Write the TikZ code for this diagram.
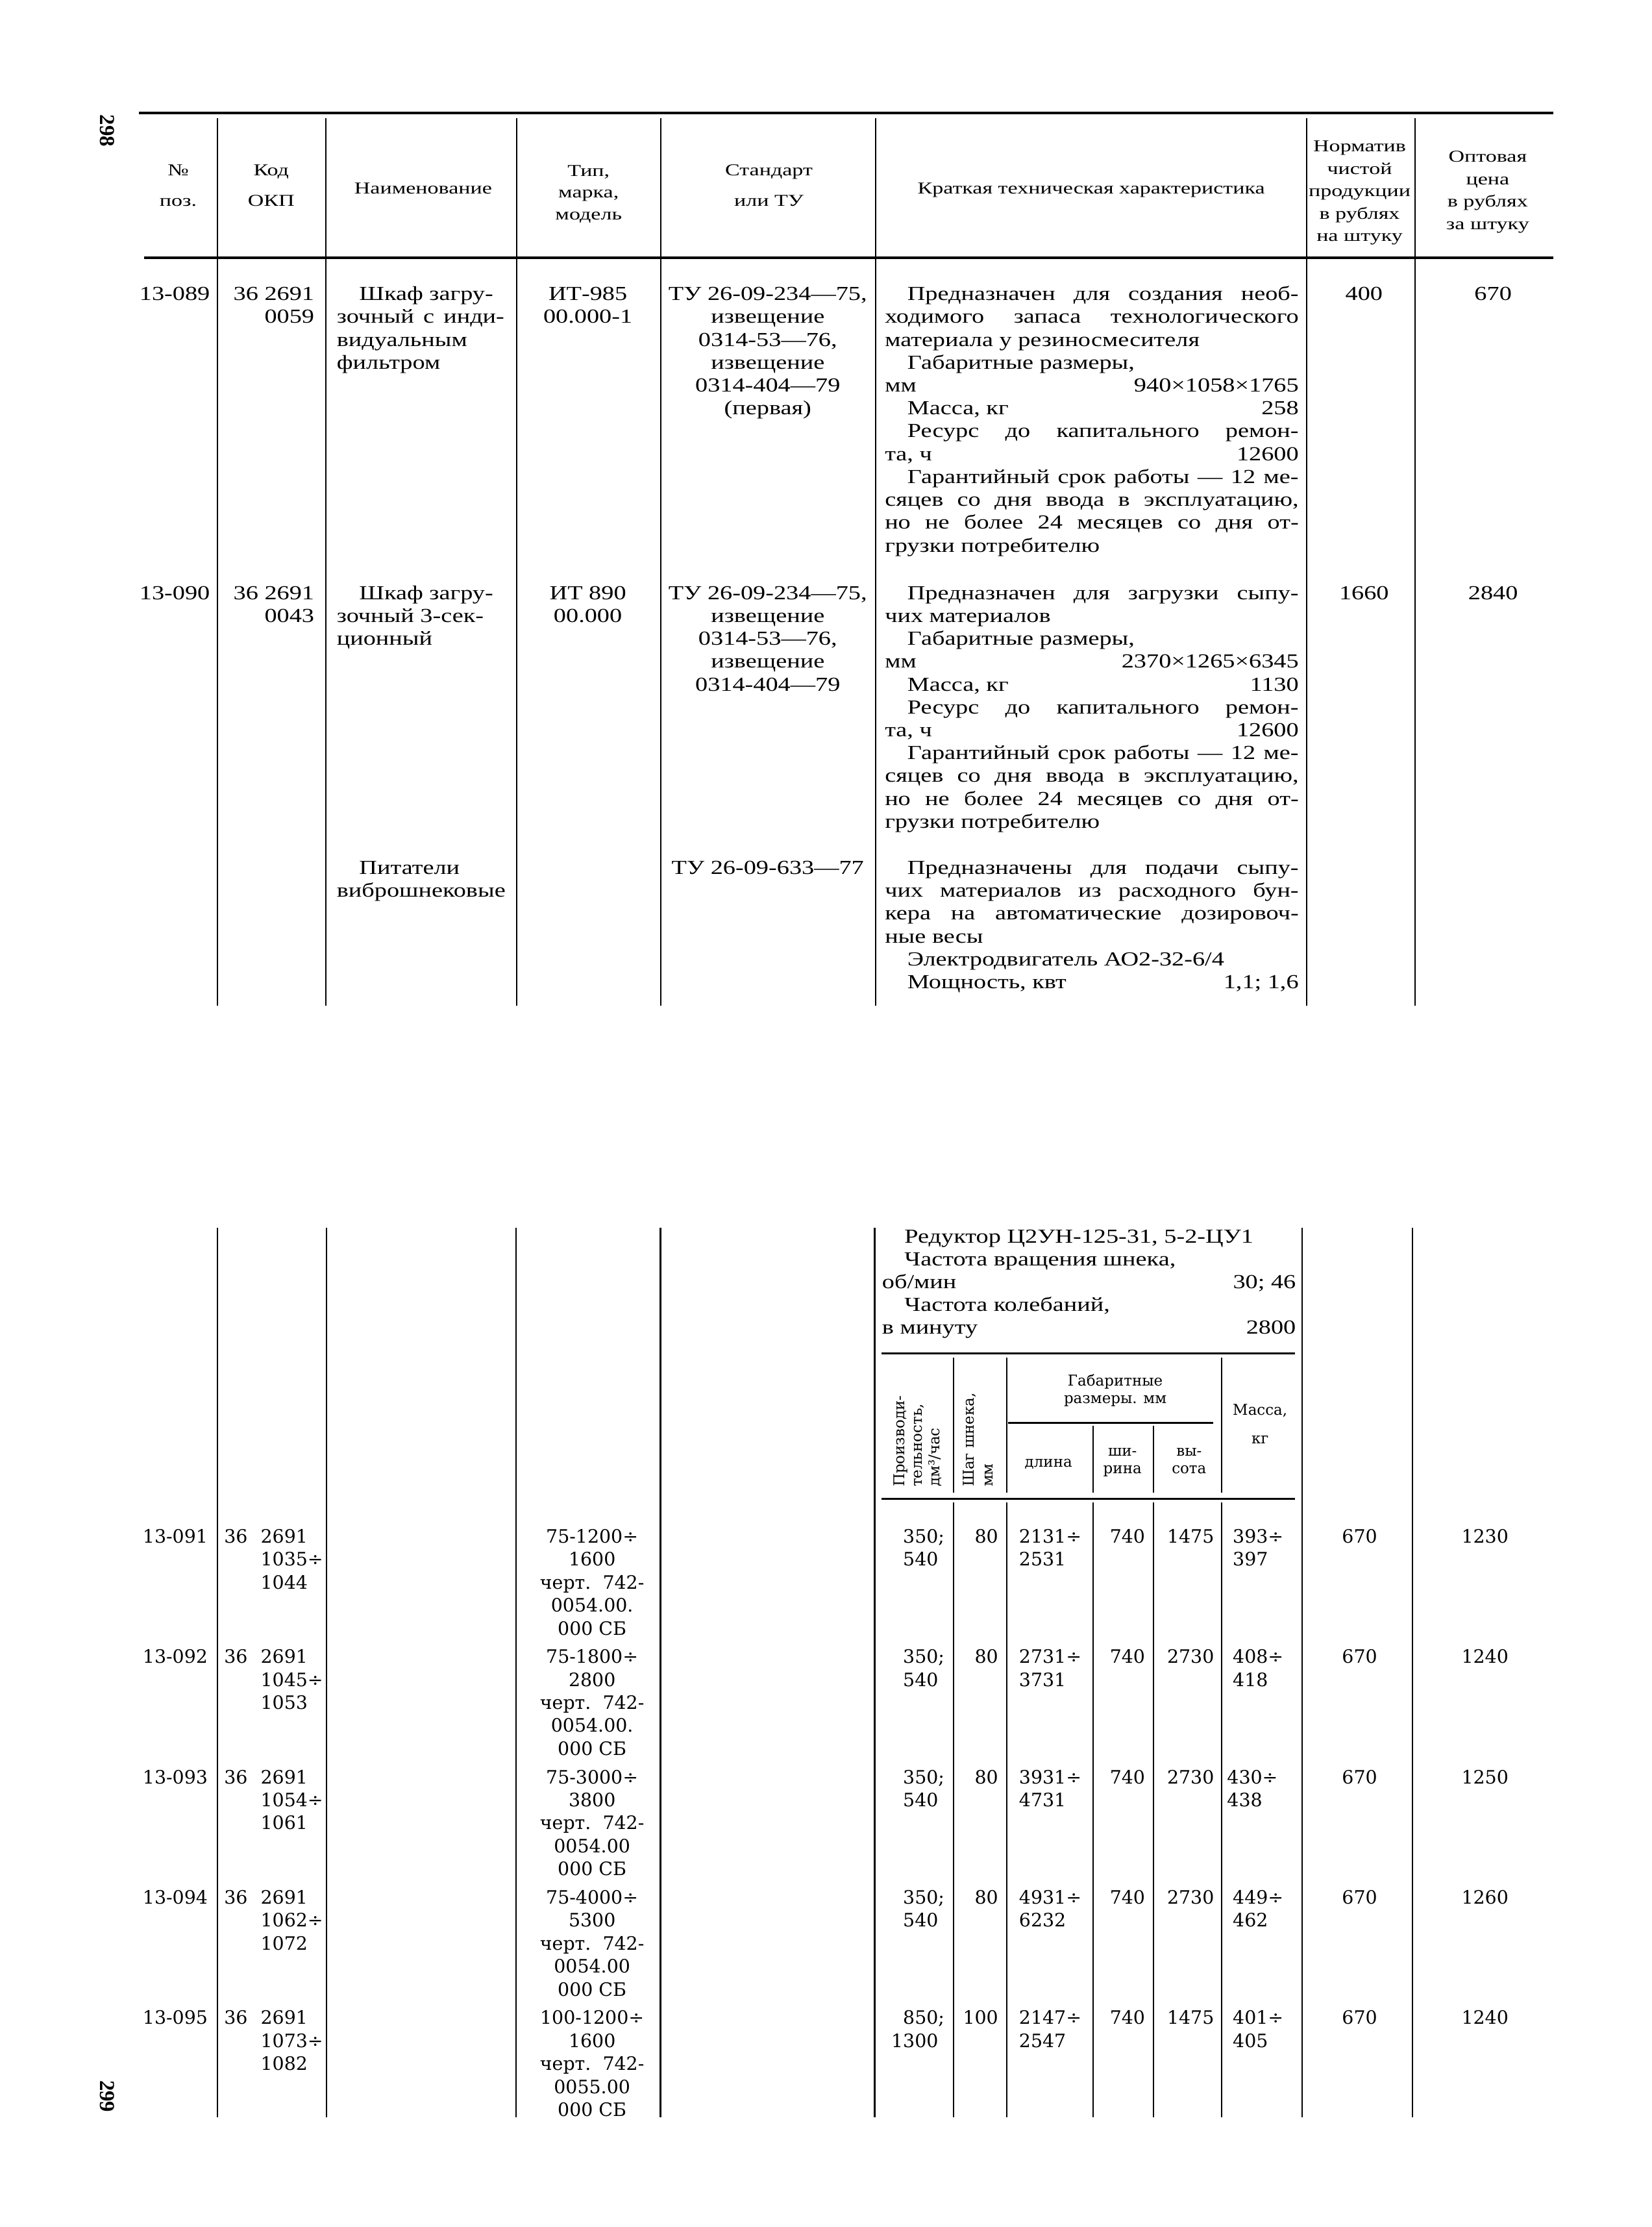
\documentclass[tikz,border=0pt]{standalone}
\usepackage{fontspec}
\setmainfont{Liberation Serif}[FakeStretch=1.25]
\newfontfamily\hdfont{Liberation Serif}[FakeStretch=1.33]
\newfontfamily\tabfont{DejaVu Serif}
\newfontfamily\pgfont{Liberation Serif}

\newlength{\chw}
\setlength{\chw}{291.4pt}
\newcommand{\jl}[1]{\makebox[\chw][s]{#1}}
\newcommand{\rl}[2]{\makebox[\chw]{#1\hfill #2}}
\newcommand{\ind}{\hspace*{15.8pt}}

\begin{document}
\begin{tikzpicture}[x=1pt,y=-1pt,
  hd/.style={font=\hdfont\fontsize{11.7}{15.8}\selectfont,align=center,anchor=base,inner sep=0pt},
  tx/.style={font=\fontsize{14}{16.1}\selectfont,inner sep=0pt},
  tb/.style={font=\tabfont\fontsize{13}{16.2}\selectfont,inner sep=0pt},
  sh/.style={font=\tabfont\fontsize{10.5}{12.3}\selectfont,inner sep=0pt},
  pg/.style={font=\pgfont\bfseries\fontsize{15}{16}\selectfont,inner sep=0pt,rotate=-90},
  rule/.style={line width=1.8pt},
  col/.style={line width=1pt},
  srule/.style={line width=1.4pt}]
\fill[white] (0,0) rectangle (1163,1568);
\useasboundingbox (0,0) rectangle (1163,1568);
% multi-line nodes sit on the baseline of their last line

% page 298
\node[pg] (p298) at (75.5,92) {298};
\draw[rule] (97.9,79.6) -- (1094,79.6);
\draw[rule] (101.5,181.5) -- (1094,181.5);
\foreach \x in {153.3,229.6,363.9,465.3,616.7,920.3,996.6}
  \draw[col] (\x,83) -- (\x,708);

\node[hd] (hnum) at (125.5,145) {№\\[5.5pt]поз.};
\node[hd] (hkod) at (191,145) {Код\\[5.5pt]ОКП};
\node[hd] (hname) at (298,136.4) {Наименование};
\node[hd,font=\hdfont\fontsize{11.7}{15.2}\selectfont] (htype) at (414.5,154.6) {Тип,\\марка,\\модель};
\node[hd] (hstd) at (541.5,145) {Стандарт\\[5.5pt]или ТУ};
\node[hd] (hchar) at (768.5,136.4) {Краткая техническая характеристика};
\node[hd] (hnorm) at (957.5,170) {Норматив\\чистой\\продукции\\в рублях\\на штуку};
\node[hd] (hprice) at (1047.7,161.6) {Оптовая\\цена\\в рублях\\за штуку};

% 13-089
\node[tx,anchor=base east] (n089) at (148,211.5) {13-089};
\node[tx,anchor=base east,align=right] (k089) at (221.5,227.6) {36 2691\\0059};
\node[tx,anchor=base west,align=left] (nm089) at (237,259.8) {\ind Шкаф загру-\\\makebox[118pt][s]{зочный с инди-}\\видуальным\\фильтром};
\node[tx,anchor=base,align=center] (t089) at (414,227.6) {ИТ-985\\00.000-1};
\node[tx,anchor=base,align=center] (s089) at (540.7,292) {ТУ 26-09-234—75,\\извещение\\0314-53—76,\\извещение\\0314-404—79\\(первая)};
\node[tx,anchor=base west,align=left] (ch089) at (623,388.6) {%
\jl{\ind Предназначен для создания необ-}\\
\jl{ходимого запаса технологического}\\
материала у резиносмесителя\\
\ind Габаритные размеры,\\
\rl{мм}{940×1058×1765}\\
\rl{\ind Масса, кг}{258}\\
\jl{\ind Ресурс до капитального ремон-}\\
\rl{та, ч}{12600}\\
\jl{\ind Гарантийный срок работы — 12 ме-}\\
\jl{сяцев со дня ввода в эксплуатацию,}\\
\jl{но не более 24 месяцев со дня от-}\\
грузки потребителю};
\node[tx,anchor=base] (nr089) at (960.6,211.5) {400};
\node[tx,anchor=base] (pr089) at (1051.5,211.5) {670};

% 13-090
\node[tx,anchor=base east] (n090) at (148,422) {13-090};
\node[tx,anchor=base east,align=right] (k090) at (221.5,438.1) {36 2691\\0043};
\node[tx,anchor=base west,align=left] (nm090) at (237,454.2) {\ind Шкаф загру-\\зочный 3-сек-\\ционный};
\node[tx,anchor=base,align=center] (t090) at (414,438.1) {ИТ 890\\00.000};
\node[tx,anchor=base,align=center] (s090) at (540.7,486.4) {ТУ 26-09-234—75,\\извещение\\0314-53—76,\\извещение\\0314-404—79};
\node[tx,anchor=base west,align=left] (ch090) at (623,583) {%
\jl{\ind Предназначен для загрузки сыпу-}\\
чих материалов\\
\ind Габаритные размеры,\\
\rl{мм}{2370×1265×6345}\\
\rl{\ind Масса, кг}{1130}\\
\jl{\ind Ресурс до капитального ремон-}\\
\rl{та, ч}{12600}\\
\jl{\ind Гарантийный срок работы — 12 ме-}\\
\jl{сяцев со дня ввода в эксплуатацию,}\\
\jl{но не более 24 месяцев со дня от-}\\
грузки потребителю};
\node[tx,anchor=base] (nr090) at (960.6,422) {1660};
\node[tx,anchor=base] (pr090) at (1051.5,422) {2840};

% feeders
\node[tx,anchor=base west,align=left] (nmfeed) at (237,631.6) {\ind Питатели\\виброшнековые};
\node[tx,anchor=base] (sfeed) at (540.7,615.5) {ТУ 26-09-633—77};
\node[tx,anchor=base west,align=left] (chfeed) at (623,696) {%
\jl{\ind Предназначены для подачи сыпу-}\\
\jl{чих материалов из расходного бун-}\\
\jl{кера на автоматические дозировоч-}\\
ные весы\\
\ind Электродвигатель АО2-32-6/4\\
\rl{\ind Мощность, квт}{1,1; 1,6}};

% page 299
\node[pg] (p299) at (75.5,1476) {299};
\foreach \x in {153.3,230,363.6,465.1,616,917.2,994.6}
  \draw[col] (\x,864.3) -- (\x,1490.8);

\node[tx,anchor=base west,align=left] (chred) at (621,939.4) {%
\ind Редуктор Ц2УН-125-31, 5-2-ЦУ1\\
\ind Частота вращения шнека,\\
\rl{об/мин}{30; 46}\\
\ind Частота колебаний,\\
\rl{в минуту}{2800}};

% inner table
\draw[srule] (621,953) -- (912,953);
\draw[srule] (709.8,1002) -- (854.3,1002);
\draw[srule] (621,1055.4) -- (912,1055.4);
\foreach \x in {671.5,709,860.5}
  \draw[col] (\x,956) -- (\x,1051);
\foreach \x in {770,812.5}
  \draw[col] (\x,1004) -- (\x,1051);
\foreach \x in {671.5,709,770,812.5,860.5}
  \draw[col] (\x,1058) -- (\x,1490.8);

\node[sh,rotate=90,anchor=base west,align=left] (hperf) at (661.6,1047) {Производи-\\тельность,\\дм³/час};
\node[sh,rotate=90,anchor=base west,align=left] (hshag) at (699.4,1047) {Шаг шнека,\\[1.1pt]мм};
\node[sh,anchor=base,align=center] (hdim) at (785.4,987.9) {Габаритные\\размеры. мм};
\node[sh,anchor=base] (hlen) at (738.4,1032.8) {длина};
\node[sh,anchor=base,align=center] (hwid) at (790.5,1037.5) {ши-\\рина};
\node[sh,anchor=base,align=center] (hhgt) at (837.4,1037.5) {вы-\\сота};
\node[sh,anchor=base,align=center] (hmass) at (887.4,1016.5) {Масса,\\[8pt]кг};

\foreach \rnum/\kone/\ktwo/\tone/\ttwo/\tthr/\pone/\ptwo/\shag/\lone/\ltwo/\hgt/\mone/\mtwo/\mx/\price [count=\i] in {
  13-091/1035/1044/75-1200/1600/0054.00./350/540/80/2131/2531/1475/393/397/868/1230,
  13-092/1045/1053/75-1800/2800/0054.00./350/540/80/2731/3731/2730/408/418/868/1240,
  13-093/1054/1061/75-3000/3800/0054.00/350/540/80/3931/4731/2730/430/438/864/1250,
  13-094/1062/1072/75-4000/5300/0054.00/350/540/80/4931/6232/2730/449/462/868/1260,
  13-095/1073/1082/100-1200/1600/0055.00/850/1300/100/2147/2547/1475/401/405/868/1240}{
  \pgfmathsetmacro{\yy}{1086.3+84.73*(\i-1)}
  \pgfmathsetmacro{\ytwo}{\yy+16.2}
  \pgfmathsetmacro{\ythr}{\yy+32.4}
  \pgfmathsetmacro{\yfiv}{\yy+64.8}
  \node[tb,anchor=base east] (pos\i) at (146.5,\yy) {\rnum};
  \node[tb,anchor=base west] (ka\i) at (157.7,\yy) {36};
  \node[tb,anchor=base west,align=left] (kb\i) at (183.4,\ythr) {2691\\{\kone}÷\\\ktwo};
  \node[tb,anchor=base,align=center] (typ\i) at (417,\yfiv) {{\tone}÷\\\ttwo\\черт.~~742-\\\tthr\\000 СБ};
  \node[tb,anchor=base east,align=right] (prf\i) at (661,\ytwo) {\pone\rlap{;}\\\ptwo};
  \node[tb,anchor=base east] (shg\i) at (703.2,\yy) {\shag};
  \node[tb,anchor=base west,align=left] (len\i) at (717.5,\ytwo) {{\lone}÷\\\ltwo};
  \node[tb,anchor=base] (wid\i) at (794,\yy) {740};
  \node[tb,anchor=base] (hgt\i) at (838.5,\yy) {\hgt};
  \node[tb,anchor=base west,align=left] (mas\i) at (\mx,\ytwo) {{\mone}÷\\\mtwo};
  \node[tb,anchor=base] (nrm\i) at (957.5,\yy) {670};
  \node[tb,anchor=base] (prc\i) at (1045.8,\yy) {\price};
}
\end{tikzpicture}
\end{document}
